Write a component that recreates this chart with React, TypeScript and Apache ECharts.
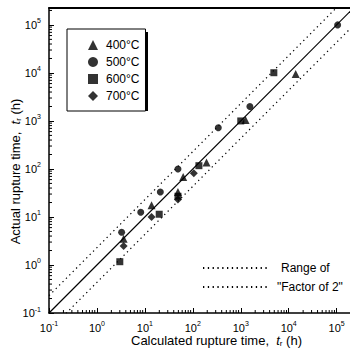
import React, { useEffect, useRef } from 'react';
import * as echarts from 'echarts';

// ---- data ----
const tempNames = ['400°C', '500°C', '600°C', '700°C'];
const tempSymbols = ['triangle', 'circle', 'rect', 'diamond'];
const tempSymbolSizes = [8, 7, 7, 8];

const calc400 = [3.6, 13.8, 49, 63, 193, 1260, 14000];
const act400 = [3.5, 17.5, 33, 68, 137, 1050, 9500];
const calc500 = [3.27, 8.2, 21, 49, 340, 1550, 105000];
const act500 = [4.8, 12.5, 33, 100, 720, 2000, 100000];
const calc600 = [3.0, 19.9, 49, 134, 1000, 4900];
const act600 = [1.17, 11.4, 27, 117, 1000, 10100];
const calc700 = [3.6, 13.8, 49, 105];
const act700 = [2.5, 10, 23, 81];

const calcSets = [calc400, calc500, calc600, calc700];
const actSets = [act400, act500, act600, act700];

const lineEnds = [0.1, 300000];
const factor = 2.3;
const bandNames = ['Range of', '"Factor of 2"'];

const xMin = 0.1;
const xMax = 190000;
const yMin = 0.1;
const yMax = 225000;

const decadeExps = [-1, 0, 1, 2, 3, 4, 5];
const minorMultipliers = [2, 3, 4, 5, 6, 7, 8, 9];

const FONT = '"Liberation Sans", Arial, Helvetica, sans-serif';

const powLabel = (v: number) => {
  const e = Math.log10(v);
  const r = Math.round(e);
  if (Math.abs(e - r) > 1e-6) return '';
  return `{b|10}{s|${r}}`;
};

const labelRich = {
  b: { fontSize: 11, fontFamily: FONT, color: '#000' },
  s: { fontSize: 7, fontFamily: FONT, color: '#000', padding: [0, 0, 8, 0] },
};

const nameRich = {
  i: { fontSize: 13, fontFamily: FONT, fontStyle: 'italic', color: '#000' },
  sub: { fontSize: 8, fontFamily: FONT, color: '#000', padding: [6, 0, 0, 0] },
};

export default function App() {
  const ref = useRef<HTMLDivElement>(null);

  useEffect(() => {
    if (!ref.current) return;
    const chart = echarts.init(ref.current, undefined, { renderer: 'svg' });

    const minorVals: number[] = [];
    decadeExps.forEach((e) => {
      minorMultipliers.forEach((m) => {
        minorVals.push(m * Math.pow(10, e));
      });
    });
    const xMinor = minorVals.filter((v) => v < xMax).map((v) => [v, yMin]);
    const yMinor = minorVals.filter((v) => v < yMax).map((v) => [xMin, v]);

    const scatterSeries = tempNames.map((name, k) => ({
      name,
      type: 'scatter',
      symbol: tempSymbols[k],
      symbolSize: tempSymbolSizes[k],
      itemStyle: { color: '#000' },
      data: calcSets[k].map((c, i) => [c, actSets[k][i]]),
      z: 5,
    }));

    const option = {
      animation: false,
      backgroundColor: '#fff',
      textStyle: { fontFamily: FONT, color: '#000' },
      grid: { left: 49, right: 0, top: 8, bottom: 43, containLabel: false, outerBoundsMode: 'none' },
      graphic: [
        {
          type: 'rect',
          left: 70,
          top: 32,
          z: 0,
          zlevel: 0,
          shape: { width: 78, height: 79 },
          style: { fill: '#000' },
        },
      ],
      xAxis: [
        {
          type: 'log',
          logBase: 10,
          min: xMin,
          max: xMax,
          position: 'bottom',
          axisLine: { show: true, lineStyle: { color: '#000', width: 1.5 } },
          axisTick: { show: true, inside: true, length: 5, lineStyle: { color: '#000', width: 1 } },
          splitLine: { show: false },
          axisLabel: {
            show: true,
            margin: 7,
            formatter: powLabel,
            rich: labelRich,
            showMaxLabel: false,
          },
          name: 'Calculated rupture time,  {i|t}{sub|r} (h)',
          nameLocation: 'middle',
          nameGap: 20,
          nameMoveOverlap: false,
          nameTextStyle: {
            fontSize: 13,
            fontFamily: FONT,
            color: '#000',
            padding: [0, 0, 0, 34],
            rich: nameRich,
          },
        },
        {
          type: 'log',
          logBase: 10,
          min: xMin,
          max: xMax,
          position: 'top',
          axisLine: { show: true, lineStyle: { color: '#000', width: 2 } },
          axisTick: { show: false },
          axisLabel: { show: false },
          splitLine: { show: false },
        },
      ],
      yAxis: {
        type: 'log',
        logBase: 10,
        min: yMin,
        max: yMax,
        axisLine: { show: true, lineStyle: { color: '#000', width: 1.5 } },
        axisTick: { show: true, inside: true, length: 5, lineStyle: { color: '#000', width: 1 } },
        splitLine: { show: false },
        axisLabel: {
          show: true,
          margin: 8,
          formatter: powLabel,
          rich: labelRich,
          showMaxLabel: false,
        },
        name: 'Actual rupture time,  {i|t}{sub|r} (h)',
        nameLocation: 'middle',
        nameGap: 27,
        nameRotate: 90,
        nameMoveOverlap: false,
        nameTextStyle: {
          fontSize: 13,
          fontFamily: FONT,
          color: '#000',
          padding: [0, 22, 0, 0],
          rich: nameRich,
        },
      },
      legend: [
        {
          data: tempNames,
          orient: 'vertical',
          left: 67,
          top: 29,
          z: 10,
          itemWidth: 10,
          itemHeight: 10,
          itemGap: 5,
          padding: [10, 6, 9, 21],
          backgroundColor: '#fff',
          borderColor: '#000',
          borderWidth: 1,
          textStyle: { fontSize: 12, fontFamily: FONT, color: '#000', padding: [0, 0, 0, 3] },
          selectedMode: false,
        },
        {
          data: bandNames,
          orient: 'vertical',
          left: 197,
          top: 257,
          itemWidth: 65,
          itemHeight: 6,
          itemGap: 7,
          itemStyle: { opacity: 0 },
          textStyle: {
            fontSize: 12,
            fontFamily: FONT,
            color: '#000',
            padding: [0, 0, 0, 4],
            rich: { a: { fontSize: 12, fontFamily: FONT, color: '#000', padding: [0, 0, 0, 4] } },
          },
          formatter: (n: string) => (n === 'Range of' ? '{a|Range of}' : n),
          selectedMode: false,
        },
      ],
      series: [
        ...scatterSeries,
        {
          name: 'diag',
          type: 'line',
          symbol: 'none',
          silent: true,
          lineStyle: { color: '#000', width: 1.2, type: 'solid' },
          data: lineEnds.map((v) => [v, v]),
          z: 3,
        },
        {
          name: bandNames[0],
          type: 'line',
          symbol: 'none',
          silent: true,
          lineStyle: { color: '#000', width: 1.2, type: [1.3, 3.5] },
          itemStyle: { color: '#000' },
          data: lineEnds.map((v) => [v, v * factor]),
          z: 3,
        },
        {
          name: bandNames[1],
          type: 'line',
          symbol: 'none',
          silent: true,
          lineStyle: { color: '#000', width: 1.2, type: [1.3, 3.5] },
          itemStyle: { color: '#000' },
          data: lineEnds.map((v) => [v, v / factor]),
          z: 3,
        },
        {
          name: 'xMinorTicks',
          type: 'custom',
          silent: true,
          data: xMinor,
          renderItem: (params: any, api: any) => {
            const p = api.coord([api.value(0), api.value(1)]);
            return {
              type: 'line',
              shape: { x1: p[0], y1: p[1], x2: p[0], y2: p[1] - 3 },
              style: { stroke: '#000', lineWidth: 1 },
            };
          },
          z: 4,
        },
        {
          name: 'yMinorTicks',
          type: 'custom',
          silent: true,
          data: yMinor,
          renderItem: (params: any, api: any) => {
            const p = api.coord([api.value(0), api.value(1)]);
            return {
              type: 'line',
              shape: { x1: p[0], y1: p[1], x2: p[0] + 3, y2: p[1] },
              style: { stroke: '#000', lineWidth: 1 },
            };
          },
          z: 4,
        },
      ],
    };

    chart.setOption(option as any);
    return () => chart.dispose();
  }, []);

  return (
    <div
      ref={ref}
      style={{ position: 'absolute', left: 0, top: 0, width: 350, height: 356 }}
    />
  );
}
